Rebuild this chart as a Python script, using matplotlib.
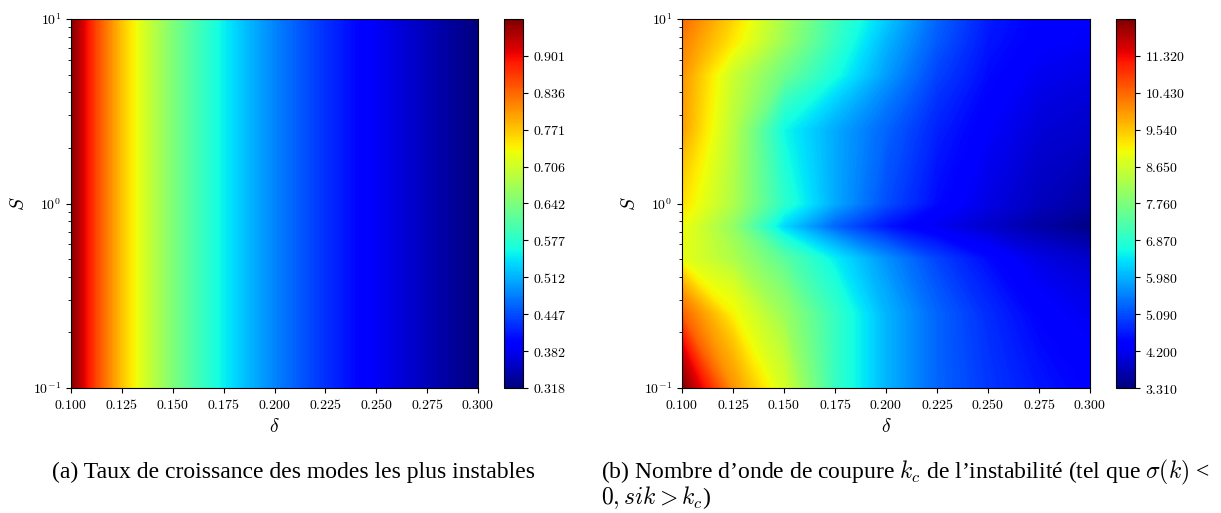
import numpy as np
import matplotlib
matplotlib.use("Agg")
from matplotlib import pyplot as plt
from matplotlib.ticker import FuncFormatter, FixedLocator

plt.rcParams['mathtext.fontset'] = 'cm'

# grid used for the two maps
delta = [0.1, 0.125, 0.15, 0.175, 0.2, 0.225, 0.25, 0.275, 0.3]
S = [0.1, 0.25, 0.5, 0.75, 1.0, 2.5, 5.0, 7.5, 10.0]

# (a) growth rate, depends only on delta (finer delta steps)
delta_a = [0.1, 0.1125, 0.125, 0.1375, 0.15, 0.1625, 0.175, 0.1875, 0.2,
           0.2125, 0.225, 0.2375, 0.25, 0.2625, 0.275, 0.2875, 0.3]
growth = [0.966, 0.859, 0.773, 0.703, 0.644, 0.595, 0.552, 0.515, 0.483,
          0.455, 0.429, 0.407, 0.386, 0.368, 0.351, 0.334, 0.318]

# (b) cut-off wave number k_c, rows = S (low to high), columns = delta
kc = [
    [12.2, 10.0, 8.7, 7.0, 6.0, 5.3, 4.9, 4.6, 4.4],    # S=0.1
    [10.5, 9.1, 8.1, 7.0, 6.0, 5.3, 4.8, 4.4, 4.2],     # S=0.25
    [8.9, 8.3, 7.4, 6.5, 5.7, 5.0, 4.5, 4.1, 3.9],      # S=0.5
    [9.0, 8.0, 6.3, 5.3, 4.6, 4.2, 3.9, 3.6, 3.35],     # S=0.75
    [9.3, 8.3, 6.9, 5.9, 5.1, 4.5, 4.1, 3.8, 3.6],      # S=1
    [9.9, 8.4, 6.6, 5.9, 5.3, 4.7, 4.3, 4.0, 3.9],      # S=2.5
    [10.0, 8.6, 7.6, 6.7, 5.8, 5.0, 4.5, 4.2, 4.1],     # S=5
    [10.2, 9.2, 8.1, 7.0, 6.0, 5.2, 4.6, 4.35, 4.25],   # S=7.5
    [10.4, 9.4, 8.2, 7.1, 6.2, 5.3, 4.65, 4.4, 4.3],    # S=10
]

ticks_a = [0.318, 0.382, 0.447, 0.512, 0.577, 0.642, 0.706, 0.771, 0.836, 0.901]
ticks_b = [3.310, 4.200, 5.090, 5.980, 6.870, 7.760, 8.650, 9.540, 10.430, 11.320]
xticks = [0.1, 0.125, 0.15, 0.175, 0.2, 0.225, 0.25, 0.275, 0.3]

fig = plt.figure(figsize=(12.21, 5.13), dpi=100)

W, H = 1221, 513
def box(l, r, t, b):
    return [l / W, (H - b) / H, (r - l) / W, (b - t) / H]

num_fmt = FuncFormatter(lambda v, p: r'$%.3f$' % v)
log_fmt = FuncFormatter(lambda v, p: r'$10^{%d}$' % round(np.log10(v)))

def draw(ax_box, cb_box, x, Z, vmin, vmax, cticks):
    ax = fig.add_axes(ax_box)
    D, SS = np.meshgrid(x, S)
    m = ax.contourf(D, SS, Z, levels=np.linspace(vmin, vmax, 400), cmap='jet',
                    vmin=vmin, vmax=vmax, antialiased=False)
    ax.set_yscale('log')
    ax.set_xlim(0.1, 0.3)
    ax.set_ylim(0.1, 10)
    ax.xaxis.set_major_locator(FixedLocator(xticks))
    ax.xaxis.set_major_formatter(num_fmt)
    ax.yaxis.set_major_formatter(log_fmt)
    ax.tick_params(labelsize=10)
    ax.set_xlabel(r'$\delta$', fontsize=14)
    ax.set_ylabel(r'$S$', fontsize=14)
    cax = fig.add_axes(cb_box)
    cb = fig.colorbar(m, cax=cax)
    cb.set_ticks(cticks)
    cb.ax.yaxis.set_major_formatter(num_fmt)
    cb.ax.tick_params(labelsize=10)
    return ax

Za = np.tile(growth, (len(S), 1))
draw(box(71, 478, 19, 388), box(504, 523, 19, 388), delta_a, Za, 0.3177, 0.9655, ticks_a)
draw(box(682, 1090, 19, 388), box(1116, 1135, 19, 388), delta, np.array(kc), 3.31, 12.21, ticks_b)

cap_font = dict(family='Liberation Serif', fontsize=17, va='center', ha='left')
fig.text(52 / W, (H - 472) / H, "(a) Taux de croissance des modes les plus instables", **cap_font)
fig.text(601 / W, (H - 472) / H,
         "(b) Nombre d\u2019onde de coupure $k_c$ de l\u2019instabilit\u00e9 (tel que $\\sigma(k)$ <",
         **cap_font)
fig.text(601 / W, (H - 498) / H, "$0, sik > k_c$)", **cap_font)

fig.savefig("out.png", dpi=100)
